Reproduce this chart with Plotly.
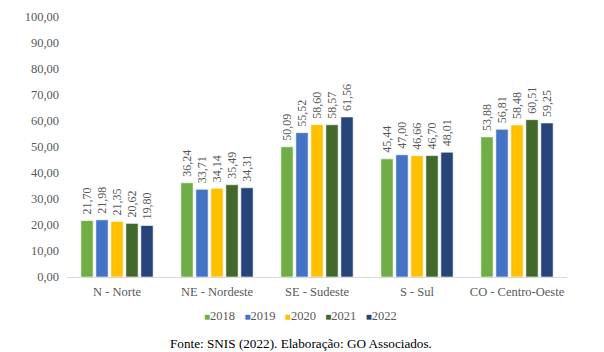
import plotly.graph_objects as go

categories = ["N - Norte", "NE - Nordeste", "SE - Sudeste", "S - Sul", "CO - Centro-Oeste"]
years = ["2018", "2019", "2020", "2021", "2022"]
values = {
    "2018": [21.70, 36.24, 50.09, 45.44, 53.88],
    "2019": [21.98, 33.71, 55.52, 47.00, 56.81],
    "2020": [21.35, 34.14, 58.60, 46.66, 58.48],
    "2021": [20.62, 35.49, 58.57, 46.70, 60.51],
    "2022": [19.80, 34.31, 61.56, 48.01, 59.25],
}
colors = ["#70AD47", "#4472C4", "#FFC000", "#43682B", "#264478"]
caption = "Fonte: SNIS (2022). Elaboração: GO Associados."

FONT = "Liberation Serif"
GRAY = "#595959"

fig = go.Figure()
for y, c in zip(years, colors):
    fig.add_trace(go.Bar(
        x=categories, y=values[y], name=y,
        marker=dict(color=c, line=dict(color="rgba(255,255,255,0.6)", width=1)),
        texttemplate="\u00a0%{y:.2f}", textposition="outside", textangle=-90,
        constraintext="none",
        textfont=dict(family=FONT, size=12, color=GRAY),
        cliponaxis=False,
    ))

legend_text = "&nbsp;&nbsp;&nbsp;".join(
    f'<span style="color:{c}; font-size:10px">■</span>{y}' for y, c in zip(years, colors)
)

fig.update_layout(
    width=604, height=352,
    margin=dict(l=67, r=37, t=10, b=75),
    paper_bgcolor="white", plot_bgcolor="white",
    separators=",.",
    barmode="group", bargap=0.25, bargroupgap=0.18,
    font=dict(family=FONT, size=12, color=GRAY),
    showlegend=False,
    annotations=[
        dict(text=legend_text, xref="paper", yref="paper", x=0.467, y=-0.15,
             xanchor="center", yanchor="middle", showarrow=False,
             font=dict(family=FONT, size=12.5, color=GRAY)),
        dict(text=caption, xref="paper", yref="paper", x=0.467, y=-0.255,
             xanchor="center", yanchor="middle", showarrow=False,
             font=dict(family=FONT, size=13.2, color="black")),
    ],
)
fig.update_yaxes(range=[0, 100], dtick=10, tickformat=".2f", showgrid=False,
                 zeroline=False, showline=False, ticks="", ticklabelstandoff=7,
                 tickfont=dict(family=FONT, size=12.5, color=GRAY))
fig.update_xaxes(showline=True, linecolor="#D9D9D9", linewidth=1, ticks="",
                 ticklabelstandoff=3,
                 tickfont=dict(family=FONT, size=12.5, color=GRAY))

fig.write_html("out.html")
